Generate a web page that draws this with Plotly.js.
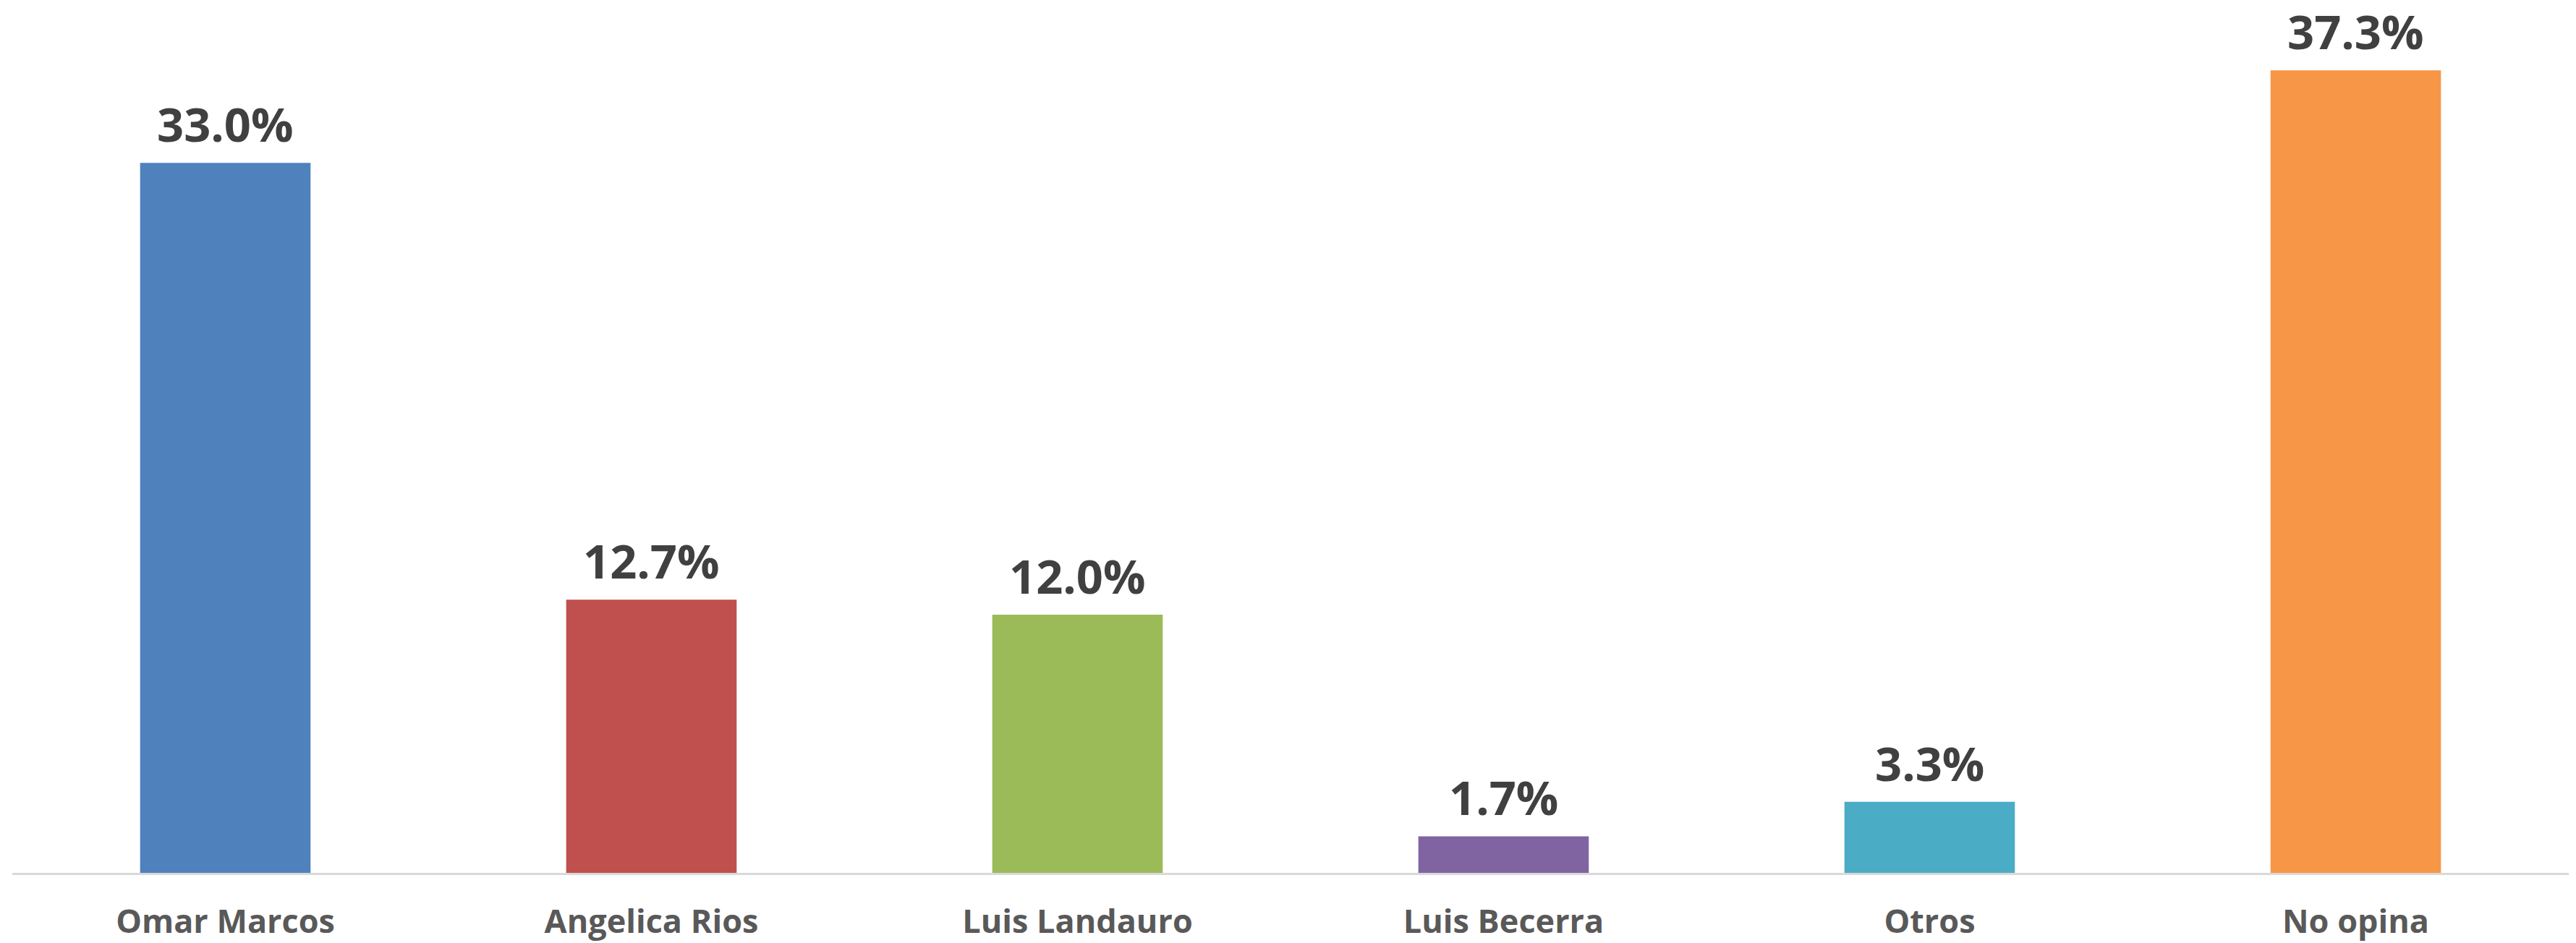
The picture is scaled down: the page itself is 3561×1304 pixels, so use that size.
<!DOCTYPE html>
<html>
<head>
<meta charset="utf-8">
<script src="https://cdn.plot.ly/plotly-3.0.1.min.js"></script>
<style>html,body{margin:0;padding:0;background:#fff;}#chart{width:3561px;height:1304px;}</style>
</head>
<body>
<div id="chart"></div>
<script>
const categories = ["Omar Marcos", "Angelica Rios", "Luis Landauro", "Luis Becerra", "Otros", "No opina"];
const values = [33.0, 12.7, 12.0, 1.7, 3.3, 37.3];
const barColors = ["#4F81BD", "#C0504D", "#9BBB59", "#8064A2", "#4BACC6", "#F79646"];

const trace = {
  type: "bar",
  x: categories,
  y: values,
  marker: {color: barColors},
  hoverinfo: "none"
};

const annotations = categories.map((c, i) => ({
  x: c, y: values[i], xref: "x", yref: "y",
  text: "<b>" + values[i].toFixed(1) + "%</b>",
  showarrow: false, yanchor: "bottom", yshift: 8,
  font: {family: "Open Sans, sans-serif", size: 65, color: "#404040"}
}));

const layout = {
  width: 3561, height: 1304,
  margin: {l: 17, r: 10, t: 17, b: 97},
  paper_bgcolor: "#ffffff", plot_bgcolor: "#ffffff",
  bargap: 0.6,
  showlegend: false,
  xaxis: {
    type: "category",
    showgrid: false, zeroline: false,
    showline: true, linecolor: "#D9D9D9", linewidth: 3,
    ticks: "", ticklabelstandoff: 26,
    tickfont: {family: "Open Sans, sans-serif", size: 45, color: "#595959", weight: "bold"}
  },
  yaxis: {
    range: [0, 40], visible: false, showgrid: false, zeroline: false, fixedrange: true
  },
  annotations: annotations
};

Plotly.newPlot("chart", [trace], layout, {staticPlot: true, displayModeBar: false});
</script>
</body>
</html>
